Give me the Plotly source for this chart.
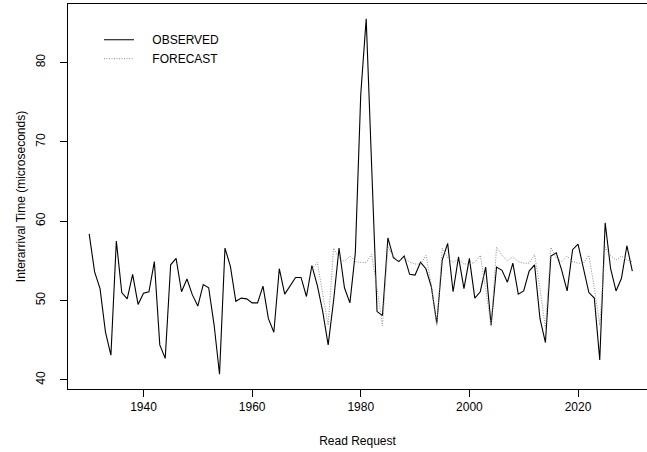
import plotly.graph_objects as go

obs_years = list(range(1930, 2031))
observed = [
    58.4, 53.6, 51.5, 46.0, 43.1, 57.5, 51.0, 50.2, 53.3, 49.5,
    50.9, 51.1, 54.9, 44.4, 42.7, 54.5, 55.3, 51.1, 52.7, 50.7,
    49.3, 52.0, 51.6, 46.9, 40.7, 56.6, 54.3, 49.9, 50.3, 50.2,
    49.7, 49.7, 51.8, 47.7, 46.0, 54.0, 50.8, 51.9, 52.9, 52.9,
    50.5, 54.4, 51.9, 48.6, 44.4, 50.0, 56.6, 51.6, 49.7, 56.0,
    76.0, 85.5, 67.0, 48.6, 48.1, 57.9, 55.4, 54.9, 55.6, 53.3,
    53.2, 54.8, 54.0, 51.7, 47.1, 55.1, 57.2, 51.1, 55.5, 51.5,
    55.3, 50.3, 51.1, 54.2, 46.9, 54.2, 53.8, 52.3, 54.7, 50.8,
    51.2, 53.7, 54.5, 47.7, 44.7, 55.6, 56.0, 53.8, 51.2, 56.4,
    57.1, 54.0, 51.0, 50.3, 42.5, 59.8, 54.0, 51.2, 52.8, 56.9,
    53.7,
]

fc_years = list(range(1971, 2031))
forecast = [
    54.0, 54.8, 50.8, 46.9, 56.6, 55.3, 54.9, 55.6, 54.9,
    54.8, 54.8, 55.8, 51.5, 46.8, 56.8, 55.5, 55.0, 55.4, 54.8,
    54.6, 54.6, 55.7, 52.0, 46.8, 56.6, 55.4, 54.8, 55.2, 54.6,
    54.6, 54.8, 55.7, 51.5, 46.7, 56.7, 55.7, 55.0, 55.5, 54.9,
    54.7, 54.7, 55.8, 51.5, 46.5, 56.7, 55.3, 54.9, 55.6, 54.9,
    54.7, 54.7, 55.7, 51.6, 46.9, 56.7, 55.6, 55.1, 55.6, 55.1,
    54.9,
]

x_ticks = [1940, 1960, 1980, 2000, 2020]
y_ticks = [40, 50, 60, 70, 80]

FONT = "Liberation Sans, Arial, Helvetica, sans-serif"
NB = "\u00a0" * 4

fig = go.Figure()
fig.add_trace(go.Scatter(
    x=obs_years, y=observed, mode="lines", name=NB + "OBSERVED",
    line=dict(color="black", width=1.1),
))
fig.add_trace(go.Scatter(
    x=fc_years, y=forecast, mode="lines", name=NB + "FORECAST",
    line=dict(color="#8c8c8c", width=1, dash="1px,1.5px"),
))

fig.update_layout(
    width=647, height=452,
    margin=dict(l=68, r=0, t=4, b=63, pad=0, autoexpand=False),
    paper_bgcolor="white", plot_bgcolor="white",
    font=dict(family=FONT, size=12, color="black"),
    showlegend=True,
    legend=dict(
        x=0.0535, y=0.945, xanchor="left", yanchor="top",
        bgcolor="rgba(0,0,0,0)", borderwidth=0,
        font=dict(family=FONT, size=12, color="black"),
        tracegroupgap=0,
    ),
)
fig.update_xaxes(
    range=[1926.1, 2032.7], tickvals=x_ticks, ticktext=[str(v) for v in x_ticks],
    showgrid=False, zeroline=False, automargin=False,
    showline=True, linecolor="black", linewidth=1, mirror=True,
    ticks="outside", ticklen=7, tickcolor="black", tickwidth=1,
    tickfont=dict(family=FONT, size=12),
    title=dict(text="Read Request", font=dict(family=FONT, size=12), standoff=23),
)
fig.update_yaxes(
    range=[38.84, 87.37], tickvals=y_ticks, ticktext=[str(v) for v in y_ticks],
    showgrid=False, zeroline=False, automargin=False,
    showline=True, linecolor="black", linewidth=1, mirror=False,
    ticks="outside", ticklen=7, tickcolor="black", tickwidth=1,
    tickangle=-90, ticklabelstandoff=10,
    tickfont=dict(family=FONT, size=12),
    title=dict(text="Interarrival Time (microseconds)", font=dict(family=FONT, size=12), standoff=6),
)

fig.write_html(
    "out.html",
    config={"displayModeBar": False},
    post_script="document.body.style.margin='0';document.body.style.overflow='hidden';",
)
